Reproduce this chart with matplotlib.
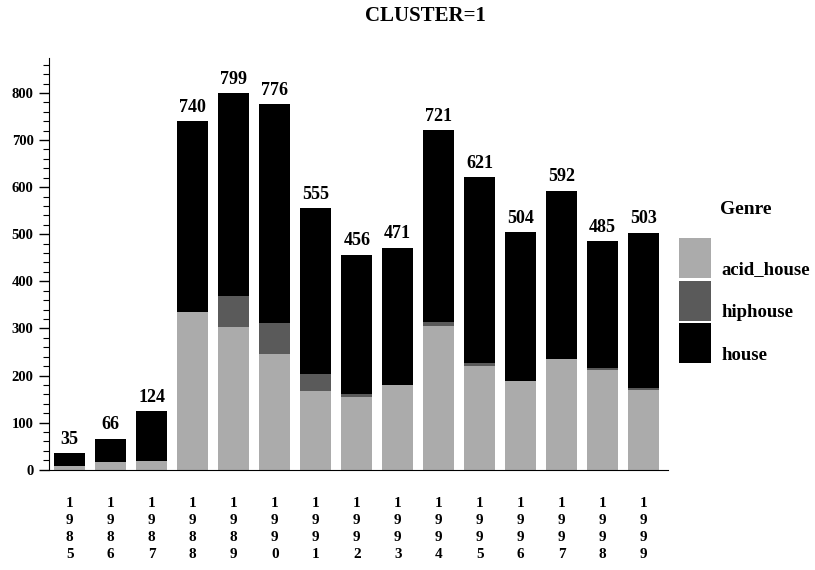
import numpy as np
import matplotlib.pyplot as plt
from matplotlib.patches import Rectangle

years = ["1985", "1986", "1987", "1988", "1989", "1990", "1991", "1992",
         "1993", "1994", "1995", "1996", "1997", "1998", "1999"]
genres = ["acid_house", "hiphouse", "house"]
acid_house = [8, 17, 19, 334, 302, 245, 167, 154, 179, 305, 220, 188, 234, 211, 169]
hiphouse = [0, 0, 0, 0, 66, 66, 36, 6, 0, 8, 6, 0, 0, 4, 4]
totals = [35, 66, 124, 740, 799, 776, 555, 456, 471, 721, 621, 504, 592, 485, 503]
house = [t - a - h for t, a, h in zip(totals, acid_house, hiphouse)]

colors = ["#ababab", "#5a5a5a", "#000000"]

plt.rcParams['font.family'] = ['Liberation Serif', 'DejaVu Serif']
plt.rcParams['font.weight'] = 'bold'


def draw_chart():
    fig = plt.figure(figsize=(8.15, 5.7), dpi=100)
    ax = fig.add_axes([0.06, 0.176, 0.76, 0.722])

    x = np.arange(len(years))
    bottom = np.zeros(len(years))
    bars = None
    for series, col in zip([acid_house, hiphouse, house], colors):
        bars = ax.bar(x, series, 0.75, bottom=bottom, color=col, linewidth=0)
        bottom += np.array(series)
    ax.bar_label(bars, labels=[str(t) for t in totals], padding=4,
                 fontsize=13, fontweight='bold')

    ax.set_xlim(-0.51, 14.6)
    ax.set_ylim(0, 874)
    ax.set_yticks(np.arange(0, 801, 100))
    ax.set_yticks(np.arange(0, 861, 20), minor=True)
    ax.tick_params(axis='y', which='major', length=7, width=1, labelsize=10.5, pad=4)
    ax.tick_params(axis='y', which='minor', length=4, width=0.8)
    for lab in ax.get_yticklabels():
        lab.set_fontweight('bold')

    ax.set_xticks(x)
    ax.set_xticklabels(["\n".join(y) for y in years], fontsize=11,
                       fontweight='bold', linespacing=1.4)
    ax.tick_params(axis='x', length=0, pad=20)

    ax.spines['top'].set_visible(False)
    ax.spines['right'].set_visible(False)

    fig.text(425 / 815, 1 - 16 / 570, "CLUSTER=1", ha='center', va='center',
             fontsize=15, fontweight='bold')

    # legend built by hand: tall swatches with labels at their lower edge
    fig.text(720 / 815, 1 - 210 / 570, "Genre", ha='left', va='center',
             fontsize=14, fontweight='bold')
    top = 238
    for name, col in zip(genres, colors):
        fig.add_artist(Rectangle((679 / 815, 1 - (top + 40) / 570), 32 / 815, 40 / 570,
                                 transform=fig.transFigure, color=col, linewidth=0))
        fig.text(721 / 815, 1 - (top + 32) / 570, name, ha='left', va='center',
                 fontsize=13.5, fontweight='bold')
        top += 42.5

    fig.savefig('out.png', dpi=100)


def main():
    draw_chart()


if __name__ == '__main__':
    main()
